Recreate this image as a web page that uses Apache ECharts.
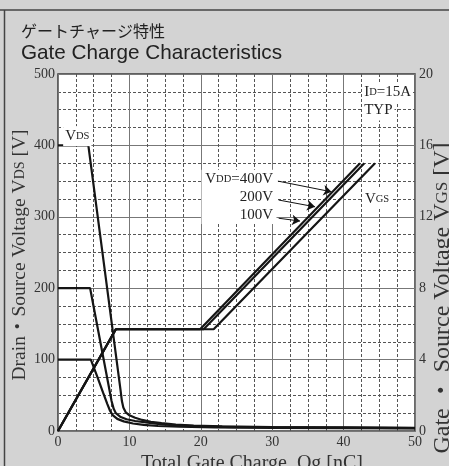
<!DOCTYPE html>
<html><head><meta charset="utf-8">
<style>html,body{margin:0;padding:0;background:#d3d3d3;overflow:hidden}#c{width:449px;height:466px;}</style>
<script src="https://cdn.jsdelivr.net/npm/echarts@6/dist/echarts.min.js"></script>
</head><body><div id="c"></div>
<script>
// ---- data ----
const xTicks = [0, 10, 20, 30, 40, 50];
const vdsTicks = [0, 100, 200, 300, 400, 500];
const vgsTicks = [0, 4, 8, 12, 16, 20];

// Drain-source voltage [V] vs Qg [nC]
const vds400 = [[0,400],[4.25,400],[8.75,58],[8.95,42],[9.15,33],[9.5,26],[10,22],[10.8,18.5],[11.8,15.5],[13,13],[14.5,11],[16.5,9],[19,7.5],[23,6.5],[30,5.5],[40,5],[50,4.5]];
const vds200 = [[0,200],[4.5,200],[7.5,42],[7.8,31],[8.1,25],[8.7,20],[9.6,16.5],[10.8,14],[12.3,12],[14,10],[16.5,8],[20,6.5],[25,5.5],[35,5],[50,4]];
const vds100 = [[0,100],[4.6,100],[5.5,76],[6.3,54],[6.9,38],[7.3,28],[7.7,22],[8.3,17],[9.2,13.5],[10.5,10.5],[12,8.5],[14,7],[17,6],[22,5],[30,4.5],[50,3.5]];

// Gate-source voltage [V] vs Qg [nC]
const vgs400 = [[0,0],[8.1,5.7],[19.9,5.7],[42.3,15]];
const vgs200 = [[0,0],[8.1,5.7],[20.4,5.7],[42.9,15]];
const vgs100 = [[0,0],[8.1,5.7],[21.8,5.7],[44.4,15]];

// annotation arrows (left-axis units)
const arrows = [[[30.8,350],[38.3,335]], [[30.9,323.5],[36.0,314]], [[30.9,298],[33.9,294]]];

const serif = '"Liberation Serif","DejaVu Serif","Noto Sans CJK JP",serif';
const chart = echarts.init(document.getElementById('c'), null, {renderer: 'canvas'});
const ls = {color: '#151515', width: 2.2};
function mk(data, yIdx, extra) {
  return Object.assign({type: 'line', data, yAxisIndex: yIdx, symbol: 'none', lineStyle: ls, silent: true, z: 5, animation: false}, extra || {});
}
const axisCommon = {
  axisLine: {show: false}, axisTick: {show: false},
  axisLabel: {color: '#333', fontFamily: serif, fontSize: 14}
};
chart.setOption({
  animation: false,
  backgroundColor: '#d3d3d3',
  grid: {left: 58, right: 34, top: 74, bottom: 35, show: true, backgroundColor: '#fff', borderColor: '#3a3a3a', borderWidth: 1.5, containLabel: false},
  xAxis: Object.assign({}, axisCommon, {
    type: 'value', min: xTicks[0], max: xTicks[xTicks.length - 1], interval: 10,
    axisLabel: Object.assign({}, axisCommon.axisLabel, {margin: 4}),
    splitLine: {show: true, lineStyle: {color: '#777', width: 1}},
    minorTick: {show: false, splitNumber: 4},
    minorSplitLine: {show: true, lineStyle: {color: '#555', width: 1, type: [3, 2]}}
  }),
  yAxis: [
    Object.assign({}, axisCommon, {
      type: 'value', min: vdsTicks[0], max: vdsTicks[vdsTicks.length - 1], interval: 100,
      axisLabel: Object.assign({}, axisCommon.axisLabel, {margin: 3}),
      splitLine: {show: true, lineStyle: {color: '#777', width: 1}},
      minorTick: {show: false, splitNumber: 4},
      minorSplitLine: {show: true, lineStyle: {color: '#555', width: 1, type: [3, 2]}}
    }),
    Object.assign({}, axisCommon, {
      type: 'value', position: 'right', min: vgsTicks[0], max: vgsTicks[vgsTicks.length - 1], interval: 4,
      axisLabel: Object.assign({}, axisCommon.axisLabel, {margin: 4}),
      splitLine: {show: false}
    })
  ],
  series: [
    mk(vds400, 0, {markLine: {silent: true, symbol: ['none', 'arrow'], symbolSize: 8, label: {show: false},
      lineStyle: {color: '#111', width: 1, type: 'solid'},
      data: arrows.map(a => [{coord: a[0]}, {coord: a[1]}])}}),
    mk(vds200, 0), mk(vds100, 0),
    mk(vgs400, 1), mk(vgs200, 1), mk(vgs100, 1)
  ]
});

// annotation texts placed through the chart's own coordinate conversion
function px(p) { return chart.convertToPixel({xAxisIndex: 0, yAxisIndex: 0}, p); }
const big = {fontSize: 15, fontFamily: serif, fill: '#222', lineHeight: 18};
const sub = {fontSize: 10.5, fontFamily: serif, fill: '#222', lineHeight: 18, verticalAlign: 'middle'};
const rich = {b: big, s: sub};
function note(p, text, align, bg, pad) {
  const q = px(p);
  return {type: 'text', x: q[0], y: q[1], z: 50, silent: true,
    style: {text, rich, align, verticalAlign: 'middle', backgroundColor: bg ? '#fff' : null, padding: pad || [1, 2], font: '15px ' + serif, fill: '#222'}};
}
const b0 = px([20.1, 366]), b1 = px([30.6, 290]);
const titleRich = (fs, sfs) => ({b: Object.assign({}, big, {fontSize: fs, fill: '#333', lineHeight: fs + 4}), s: Object.assign({}, sub, {fontSize: sfs, fill: '#333', lineHeight: fs + 4})});
const graphics = [
  // frame of the figure
  {type: 'line', shape: {x1: 0, y1: 10, x2: 449, y2: 10}, style: {stroke: '#444', lineWidth: 1.5}},
  {type: 'line', shape: {x1: 4.5, y1: 10, x2: 4.5, y2: 466}, style: {stroke: '#444', lineWidth: 1.5}},
  {type: 'text', x: 21, y: 31, style: {text: 'ゲートチャージ特性', font: '16px "Noto Sans CJK JP"', fill: '#222', verticalAlign: 'middle'}},
  {type: 'text', x: 21, y: 53, style: {text: 'Gate Charge Characteristics', font: '20.7px "Liberation Sans", Arial, sans-serif', fill: '#222', verticalAlign: 'middle'}},
  {type: 'text', x: 20, y: 255, rotation: Math.PI / 2, style: {text: '{b|Drain・Source Voltage V}{s|DS}{b| [V]}', rich: titleRich(19.5, 14), align: 'center', verticalAlign: 'middle'}},
  {type: 'text', x: 443, y: 298, rotation: Math.PI / 2, style: {text: '{b|Gate ・ Source Voltage V}{s|GS}{b| [V]}', rich: titleRich(24, 17), align: 'center', verticalAlign: 'middle'}},
  {type: 'text', x: 252, y: 464, style: {text: 'Total Gate Charge  Qg [nC]', font: '20px ' + serif, fill: '#333', align: 'center', verticalAlign: 'middle'}},
  {type: 'rect', z: 40, silent: true, shape: {x: b0[0], y: b0[1], width: b1[0] - b0[0], height: b1[1] - b0[1]}, style: {fill: '#fff'}},
  note([2.7, 413], '{b|V}{s|DS}', 'center', true),
  note([42.6, 474.8], '{b|I}{s|D}{b|=15A}', 'left', true),
  note([42.6, 449], '{b|TYP}', 'left', true),
  note([42.7, 325], '{b|V}{s|GS}', 'left', true),
  note([30.4, 327], '{b|V}{s|DD}{b|=400V}\n{b|200V}\n{b|100V}', 'right', false)
];
chart.setOption({graphic: graphics});
</script></body></html>
